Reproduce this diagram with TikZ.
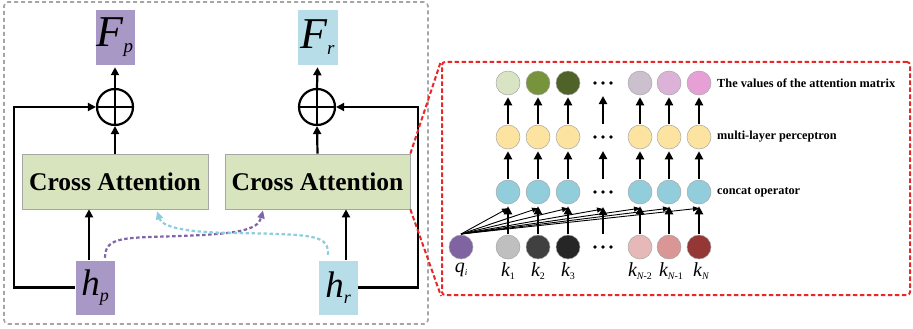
\documentclass[tikz,border=0pt]{standalone}
\usepackage{fontspec}
\setmainfont{Liberation Serif}
\usetikzlibrary{arrows.meta,calc}
\definecolor{pboxc}{RGB}{168,152,198}
\definecolor{rboxc}{RGB}{182,221,232}
\definecolor{cafill}{RGB}{216,228,190}
\definecolor{pdash}{RGB}{128,100,168}
\definecolor{cdash}{RGB}{140,205,222}
\definecolor{framegray}{RGB}{165,165,165}
\definecolor{redframe}{RGB}{232,40,40}
\definecolor{cA}{RGB}{216,228,196}
\definecolor{cB}{RGB}{119,147,60}
\definecolor{cC}{RGB}{79,98,40}
\definecolor{cD}{RGB}{204,192,206}
\definecolor{cE}{RGB}{221,178,216}
\definecolor{cF}{RGB}{230,160,214}
\definecolor{mlpc}{RGB}{252,228,160}
\definecolor{catc}{RGB}{146,205,220}
\definecolor{k1c}{RGB}{191,191,191}
\definecolor{k2c}{RGB}{64,64,64}
\definecolor{k3c}{RGB}{38,38,38}
\definecolor{k4c}{RGB}{230,185,184}
\definecolor{k5c}{RGB}{217,150,148}
\definecolor{k6c}{RGB}{149,55,53}
\definecolor{qc}{RGB}{128,100,162}
\tikzset{
  featbox/.style={minimum width=40pt,minimum height=56pt,inner sep=0pt,draw=white,line width=0.5pt},
  cabox/.style={fill=cafill,draw=black!35,line width=0.7pt,minimum width=186pt,minimum height=55pt,inner sep=0pt,font=\fontsize{25.5}{25.5}\selectfont\bfseries},
  plusnode/.style={circle,draw=black,line width=2.2pt,minimum size=36pt,inner sep=0pt},
  thickarrow/.style={line width=2.2pt,-{Triangle[length=8pt,width=8pt]}},
  thinarrow/.style={line width=0.9pt,-{Triangle[length=6pt,width=5pt]}},
  ball/.style={circle,draw=black!35,line width=0.5pt,minimum size=24pt,inner sep=0pt},
  rowlabel/.style={anchor=west,font=\fontsize{12.3}{13}\selectfont\bfseries,inner sep=0pt},
  klabel/.style={font=\fontsize{20}{20}\selectfont\itshape,inner sep=0pt},
  dotsym/.style={circle,fill=black,minimum size=3.6pt,inner sep=0pt},
  dashline/.style={line width=2.2pt,dash pattern=on 3.5pt off 2.5pt,-{Triangle[length=8pt,width=7pt]}}
}
\begin{document}
\begin{tikzpicture}[x=1pt,y=-1pt]
\useasboundingbox (0,0) rectangle (913,329);
% frames
\node[draw=framegray,dash pattern=on 4pt off 3pt,line width=1.6pt,rounded corners=4pt,minimum width=424pt,minimum height=322pt,inner sep=0pt] (leftframe) at (216,163) {};
\node[draw=redframe,dash pattern=on 4.5pt off 2.5pt,line width=2pt,rounded corners=3pt,minimum width=468pt,minimum height=233pt,inner sep=0pt] (zoomframe) at (676,178.5) {};
% left panel
\node[featbox,fill=pboxc] (Fp) at (115,37) {{\fontsize{44}{44}\selectfont\itshape F}\raisebox{-6pt}{\fontsize{19}{19}\selectfont\itshape p}};
\node[featbox,fill=rboxc,minimum width=41pt] (Fr) at (317.5,37) {{\fontsize{44}{44}\selectfont\itshape F}\raisebox{-6pt}{\fontsize{19}{19}\selectfont\itshape r}};
\node[plusnode] (plusL) at (115,107) {};
\node[plusnode] (plusR) at (317,107) {};
\draw[line width=2.2pt] (plusL.north) -- (plusL.south) (plusL.west) -- (plusL.east);
\draw[line width=2.2pt] (plusR.north) -- (plusR.south) (plusR.west) -- (plusR.east);
\node[cabox] (caL) at (115,181.5) {Cross Attention};
\node[cabox,minimum width=185pt] (caR) at (317.5,181.5) {Cross Attention};
\node[featbox,fill=pboxc,minimum height=55pt] (hp) at (95,287.5) {{\fontsize{37}{37}\selectfont\itshape h}\raisebox{-6pt}{\fontsize{18}{18}\selectfont\itshape p}};
\node[featbox,fill=rboxc,minimum height=55pt] (hr) at (338,287.5) {{\fontsize{37}{37}\selectfont\itshape h}\raisebox{-6pt}{\fontsize{18}{18}\selectfont\itshape r}};
\draw[thickarrow] (plusL.north) -- ($(Fp.south)+(0,2)$);
\draw[thickarrow] (plusR.north) -- ($(Fr.south)+(0,2)$);
\draw[thickarrow] (caL.north) -- (plusL.south);
\draw[thickarrow] (caR.north) -- (plusR.south);
\draw[thickarrow] ($(hp.north)+(-6,0)$) -- ($(caL.south)+(-26,0)$);
\draw[thickarrow] ($(hr.north)+(8,0)$) -- ($(caR.south)+(28.5,0)$);
\draw[thickarrow] (hp.west) -- ++(-61,0) |- (plusL.west);
\draw[thickarrow] (hr.east) -- ++(60,0) |- (plusR.east);
\draw[pdash,dashline]
  ($(hp.north)+(10,-2)$) .. controls (105,236) and (125,238) .. (180,236)
  .. controls (238,234) and (258,230) .. ($(caR.south)+(-54.5,1)$);
\draw[cdash,dashline]
  ($(hr.north)+(-10,-5)$) .. controls (328,236) and (320,234) .. (230,233)
  .. controls (180,232) and (162,226) .. ($(caL.south)+(42,2)$);
% zoom lines
\draw[redframe,dash pattern=on 4.5pt off 2.5pt,line width=2pt] (caR.north east) -- (zoomframe.north west);
\draw[redframe,dash pattern=on 4.5pt off 2.5pt,line width=2pt] (caR.south east) -- (zoomframe.south west);
% right panel balls
\foreach \x/\n/\c in {508/1/cA,538/2/cB,568/3/cC,640/4/cD,669/5/cE,699/6/cF}{
  \node[ball,fill=\c] (v\n) at (\x,83) {};
  \node[ball,fill=mlpc] (m\n) at (\x,137) {};
  \node[ball,fill=catc] (c\n) at (\x,192) {};
}
\foreach \x/\n/\c in {508/1/k1c,538/2/k2c,568/3/k3c,640/4/k4c,669/5/k5c,699/6/k6c}{
  \node[ball,fill=\c] (k\n) at (\x,247) {};
}
\node[ball,fill=qc] (q) at (461,247) {};
\foreach \y/\r in {83/a,137/b,192/c,247/d}{
  \node[dotsym] (d\r1) at (595,\y) {};
  \node[dotsym] (d\r2) at (603,\y) {};
  \node[dotsym] (d\r3) at (611,\y) {};
}
\coordinate (gapm) at (603,124);
\coordinate (gapv) at (603,96);
\coordinate (gapk) at (603,234);
\coordinate (gapc) at (603,207);
\foreach \n in {1,...,6}{
  \draw[thickarrow] ($(m\n.north)+(0,-1)$) -- ($(v\n.south)+(0,2)$);
  \draw[thickarrow] ($(c\n.north)+(0,-1)$) -- ($(m\n.south)+(0,2)$);
  \draw[thickarrow] ($(k\n.north)+(0,-1)$) -- ($(c\n.south)+(0,2)$);
}
\draw[thickarrow] (gapm) -- (gapv);
\draw[thickarrow] ($(gapm)+(0,55)$) -- ($(gapv)+(0,55)$);
\draw[thickarrow] (gapk) -- (gapc);
\coordinate (qs) at (461,234);
\foreach \n in {1,...,6}{
  \draw[thinarrow] (qs) -- ($(c\n.south)+(0,4)$);
}
\draw[thinarrow] (qs) -- ($(gapc)+(0,2)$);
% labels
\node[rowlabel] (lv) at (717,83) {The values of the attention matrix};
\node[rowlabel] (lm) at (717,137) {multi-layer perceptron};
\node[rowlabel] (lc) at (717,192) {concat operator};
\node[klabel] (lq) at (461,270) {q\raisebox{-3pt}{\fontsize{9}{9}\selectfont i}};
\node[klabel] (lk1) at (508,271) {k\raisebox{-3pt}{\fontsize{10}{10}\selectfont\upshape 1}};
\node[klabel] (lk2) at (538,271) {k\raisebox{-3pt}{\fontsize{10}{10}\selectfont\upshape 2}};
\node[klabel] (lk3) at (568,271) {k\raisebox{-3pt}{\fontsize{10}{10}\selectfont\upshape 3}};
\node[klabel] (lk4) at (640,271) {k\raisebox{-3pt}{\fontsize{10}{10}\selectfont N\upshape -2}};
\node[klabel] (lk5) at (671,271) {k\raisebox{-3pt}{\fontsize{10}{10}\selectfont N\upshape -1}};
\node[klabel] (lk6) at (701,271) {k\raisebox{-3pt}{\fontsize{10}{10}\selectfont N}};
\end{tikzpicture}
\end{document}
